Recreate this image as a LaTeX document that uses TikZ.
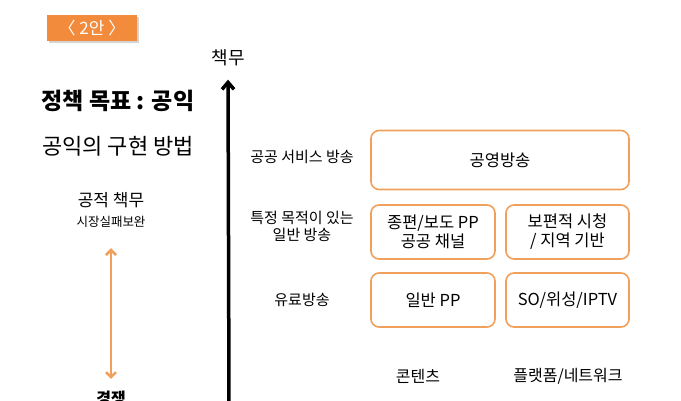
\documentclass[tikz,border=0pt]{standalone}
\usepackage{fontspec}
\setmainfont{Noto Sans CJK KR}
\usetikzlibrary{arrows.meta,shadows}
\definecolor{boxorange}{HTML}{F0A05A}
\definecolor{tagorange}{HTML}{F28B3C}
\begin{document}
\begin{tikzpicture}[x=1pt, y=-1pt,
    cell/.style={draw=boxorange, line width=1.6pt, rounded corners=8pt, align=center,
                 inner sep=0pt, font=\fontsize{16.5}{19}\selectfont},
    rowlabel/.style={align=center, font=\fontsize{15}{17}\selectfont},
    collabel/.style={font=\fontsize{16}{19}\selectfont}]
  \useasboundingbox (0,0) rectangle (681,400);
  % Title tag and headings
  \node[fill=tagorange, text=white, minimum width=90pt, minimum height=26pt, inner sep=0pt,
        drop shadow={shadow xshift=1.5pt, shadow yshift=-1.5pt, opacity=0.35},
        font=\fontsize{17}{19}\selectfont] (tag) at (92,28) {〈 2안 〉};
  \node[font=\fontsize{18}{21}\selectfont] (duty) at (228,58) {책무};
  \node[font=\bfseries\fontsize{23}{26}\selectfont] (goal) at (118,101) {정책 목표 : 공익};
  \node[font=\fontsize{22}{25}\selectfont] (means) at (118,146) {공익의 구현 방법};

  % Left scale: public duty vs. competition
  \node[font=\fontsize{17}{20}\selectfont] (pubduty) at (111,200) {공적 책무};
  \node[font=\fontsize{12.5}{15}\selectfont] (fail) at (111,222) {시장실패보완};
  \node[font=\bfseries\fontsize{16}{19}\selectfont] (comp) at (111,399) {경쟁};
  \draw[draw=boxorange, line width=2.6pt, {Straight Barb[length=5pt,width=10pt]}-{Straight Barb[length=5pt,width=10pt]},
        shorten <=17pt, shorten >=9pt] (fail.south) -- (comp.north);

  % Vertical axis
  \coordinate (axisbot) at (229,402);
  \draw[line width=3.5pt, -{Straight Barb[length=7pt,width=12pt]}, shorten >=10pt] (axisbot) -- (duty.south);

  % Row labels
  \node[rowlabel] (rowpub) at (302,157) {공공 서비스 방송};
  \node[rowlabel] (rowgen) at (302,226) {특정 목적이 있는\\일반 방송};
  \node[rowlabel] (rowpay) at (302,300) {유료방송};

  % Boxes
  \node[cell, minimum width=258pt, minimum height=59pt] (kbs) at (500,160) {공영방송};
  \node[cell, minimum width=124pt, minimum height=54pt] (chan) at (433,232) {종편/보도 PP\\공공 채널};
  \node[cell, minimum width=123pt, minimum height=54pt] (univ) at (567.5,232) {보편적 시청\\/ 지역 기반};
  \node[cell, minimum width=124pt, minimum height=54pt] (pp) at (433,300) {일반 PP};
  \node[cell, minimum width=123pt, minimum height=54pt] (so) at (567.5,300) {SO/위성/IPTV};

  % Column labels
  \node[collabel] (content) at (418,376) {콘텐츠};
  \node[collabel] (platform) at (568,376) {플랫폼/네트워크};
\end{tikzpicture}
\end{document}
